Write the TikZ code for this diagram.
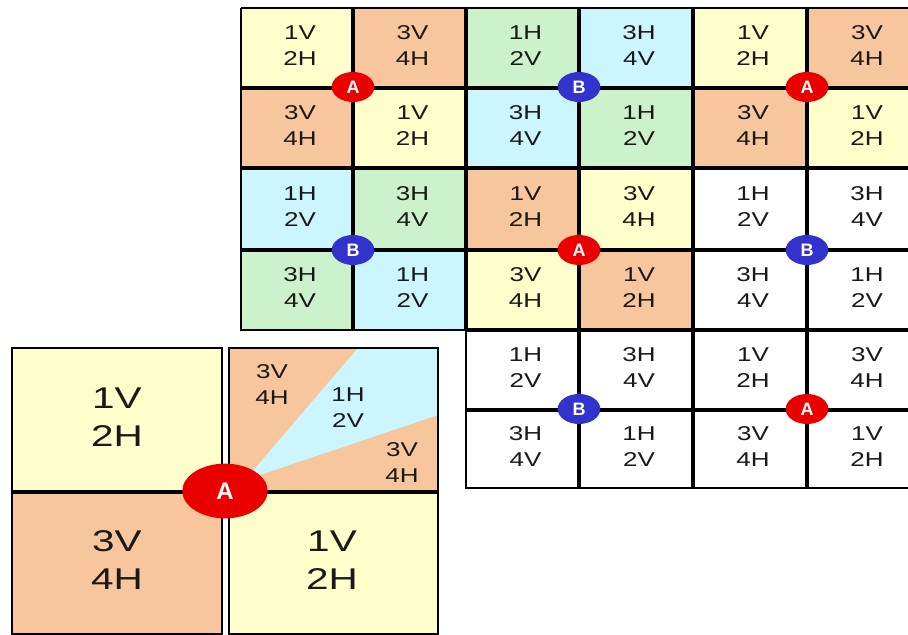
\documentclass[tikz,border=0pt]{standalone}
\usepackage{fontspec}
\setmainfont{Liberation Sans}
\usetikzlibrary{shapes.geometric}
\definecolor{yel}{RGB}{255,255,204}
\definecolor{pch}{RGB}{248,198,156}
\definecolor{grn}{RGB}{204,242,204}
\definecolor{cyn}{RGB}{204,246,255}
\definecolor{mred}{RGB}{235,0,0}
\definecolor{mblue}{RGB}{50,50,205}
\definecolor{txt}{RGB}{25,25,25}
\begin{document}
\begin{tikzpicture}[x=0.75pt,y=-0.75pt,
  celltext/.style={align=center,inner sep=0pt,text=txt,xscale=1.3,
    font=\fontsize{15}{19.5}\selectfont},
  bigtext/.style={align=center,inner sep=0pt,text=txt,xscale=1.35,
    font=\fontsize{22.5}{28.5}\selectfont},
  gridline/.style={line width=2.8pt,black},
  outerline/.style={line width=1.8pt,black},
  boxline/.style={line width=1.9pt,black},
  pinA/.style={ellipse,fill=mred,draw=none,minimum width=32pt,minimum height=22.5pt,inner sep=0pt,
    text=white,font=\fontsize{13.5}{13.5}\selectfont\bfseries},
  pinB/.style={pinA,fill=mblue},
  bigpin/.style={ellipse,fill=mred,draw=none,minimum width=64pt,minimum height=41pt,inner sep=0pt,
    text=white,font=\fontsize{18}{18}\selectfont\bfseries}]
\useasboundingbox (0,0) rectangle (908,635);
\clip (0,0) rectangle (908,635);
\fill[white] (0,0) rectangle (908,635);
% grid cells
\foreach \c/\r/\f/\a/\b in {
 0/0/yel/1V/2H, 1/0/pch/3V/4H, 2/0/grn/1H/2V, 3/0/cyn/3H/4V, 4/0/yel/1V/2H, 5/0/pch/3V/4H,
 0/1/pch/3V/4H, 1/1/yel/1V/2H, 2/1/cyn/3H/4V, 3/1/grn/1H/2V, 4/1/pch/3V/4H, 5/1/yel/1V/2H,
 0/2/cyn/1H/2V, 1/2/grn/3H/4V, 2/2/pch/1V/2H, 3/2/yel/3V/4H, 4/2/white/1H/2V, 5/2/white/3H/4V,
 0/3/grn/3H/4V, 1/3/cyn/1H/2V, 2/3/yel/3V/4H, 3/3/pch/1V/2H, 4/3/white/3H/4V, 5/3/white/1H/2V,
 2/4/white/1H/2V, 3/4/white/3H/4V, 4/4/white/1V/2H, 5/4/white/3V/4H,
 2/5/white/3H/4V, 3/5/white/1H/2V, 4/5/white/3V/4H, 5/5/white/1V/2H} {
  \pgfmathsetmacro\xa{{241,353,466,579,693,807,921}[\c]}
  \pgfmathsetmacro\xb{{241,353,466,579,693,807,921}[\c+1]}
  \pgfmathsetmacro\ya{{8,88,168,250,330,410,488}[\r]}
  \pgfmathsetmacro\yb{{8,88,168,250,330,410,488}[\r+1]}
  \fill[\f] (\xa,\ya) rectangle (\xb,\yb);
  \node[celltext] (c\c\r) at ({(\xa+\xb)/2+3},{(\ya+\yb)/2-2}) {\a\\\b};
}
% grid lines
\draw[outerline] (241,8) -- (921,8);
\draw[outerline] (241,8) -- (241,330) -- (466,330);
\draw[outerline] (466,330) -- (466,488) -- (921,488);
\draw[gridline] (241,88) -- (921,88);
\draw[gridline] (241,168) -- (921,168);
\draw[gridline] (241,250) -- (921,250);
\draw[gridline] (466,330) -- (921,330);
\draw[gridline] (466,410) -- (921,410);
\draw[gridline] (353,8) -- (353,330);
\draw[gridline] (466,8) -- (466,330);
\draw[gridline] (579,8) -- (579,488);
\draw[gridline] (693,8) -- (693,488);
\draw[gridline] (807,8) -- (807,488);
% markers
\node[pinA] (m1) at (353,87) {A};
\node[pinB] (m2) at (579,87) {B};
\node[pinA] (m3) at (807,87) {A};
\node[pinB] (m4) at (353,250) {B};
\node[pinA] (m5) at (579,250) {A};
\node[pinB] (m6) at (807,250) {B};
\node[pinB] (m7) at (579,409) {B};
\node[pinA] (m8) at (807,409) {A};
% enlarged view
\fill[yel] (12,348) rectangle (222,491);
\fill[pch] (229,348) rectangle (438,491);
\fill[cyn] (245,480) -- (358,348) -- (438,348) -- (438,415) -- cycle;
\fill[pch] (12,493) rectangle (222,634);
\fill[yel] (229,493) rectangle (438,634);
\draw[boxline] (12,348) rectangle (222,491);
\draw[boxline] (229,348) rectangle (438,491);
\draw[boxline] (12,493) rectangle (222,634);
\draw[boxline] (229,493) rectangle (438,634);
\node[bigtext] (t1) at (117,417) {1V\\2H};
\node[bigtext] (t2) at (117,560) {3V\\4H};
\node[bigtext] (t3) at (332,560) {1V\\2H};
\node[celltext] (w1) at (272,385) {3V\\4H};
\node[celltext] (w2) at (348,408) {1H\\2V};
\node[celltext] (w3) at (402,463) {3V\\4H};
\node[bigpin] (big) at (225,491) {A};
\end{tikzpicture}
\end{document}
